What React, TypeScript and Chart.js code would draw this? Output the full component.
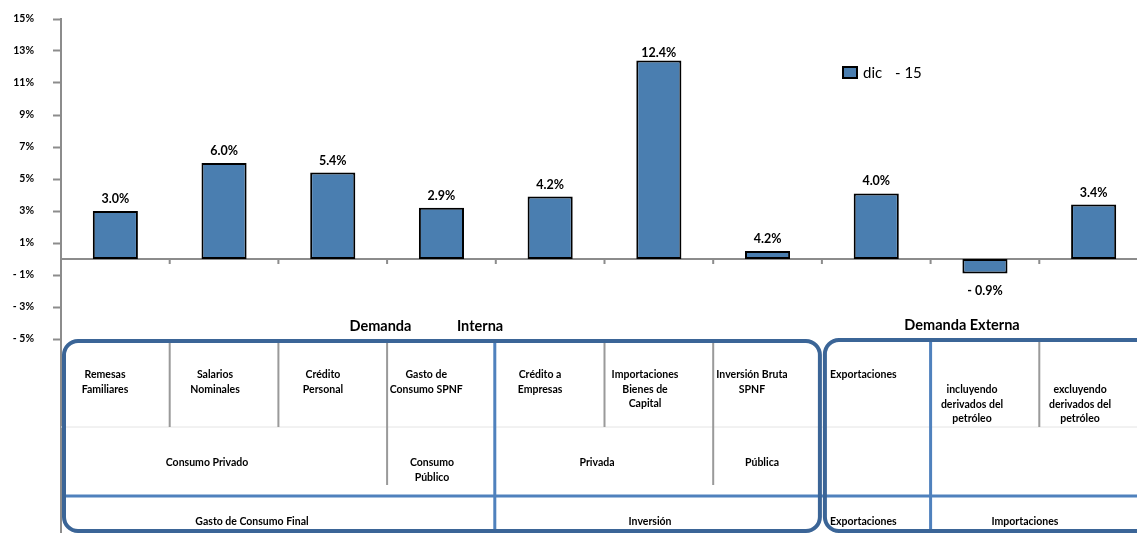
import React, { useEffect, useRef } from "react";
import { Chart, registerables } from "chart.js";

Chart.register(...registerables);

const categories = [
  "Remesas Familiares",
  "Salarios Nominales",
  "Crédito Personal",
  "Gasto de Consumo SPNF",
  "Crédito a Empresas",
  "Importaciones Bienes de Capital",
  "Inversión Bruta SPNF",
  "Exportaciones",
  "Importaciones incluyendo derivados del petróleo",
  "Importaciones excluyendo derivados del petróleo",
];
const seriesName = "dic   - 15";
const dic15 = [3.0, 6.0, 5.4, 3.2, 3.9, 12.4, 0.5, 4.1, -0.9, 3.4];
const dic15Labels = ["3.0%", "6.0%", "5.4%", "2.9%", "4.2%", "12.4%", "4.2%", "4.0%", "- 0.9%", "3.4%"];
const yTicks = [-5, -3, -1, 1, 3, 5, 7, 9, 11, 13, 15];

const row1 = [
  { lines: ["Remesas", "Familiares"], c: 0.405 },
  { lines: ["Salarios", "Nominales"], c: 1.417 },
  { lines: ["Crédito", "Personal"], c: 2.41 },
  { lines: ["Gasto de", "Consumo SPNF"], c: 3.36 },
  { lines: ["Crédito a", "Empresas"], c: 4.407 },
  { lines: ["Importaciones", "Bienes de", "Capital"], c: 5.373 },
  { lines: ["Inversión Bruta", "SPNF"], c: 6.357 },
];
const row1b = [
  { lines: ["incluyendo", "derivados del", "petróleo"], c: 8.381 },
  { lines: ["excluyendo", "derivados del", "petróleo"], c: 9.375 },
];
const row2 = [
  { lines: ["Consumo Privado"], c: 1.343 },
  { lines: ["Consumo", "Público"], c: 3.413 },
  { lines: ["Privada"], c: 4.931 },
  { lines: ["Pública"], c: 6.449 },
];
const row3 = [
  { lines: ["Gasto de Consumo Final"], c: 1.757 },
  { lines: ["Inversión"], c: 5.419 },
  { lines: ["Importaciones"], c: 8.868 },
];

const FONT = "Lato, 'Open Sans', sans-serif";

const customPlugin = {
  id: "custom",
  beforeDatasetsDraw(chart: any) {
    const { ctx, chartArea } = chart;
    const xs = chart.scales.x;
    const ys = chart.scales.y;
    const y0 = ys.getPixelForValue(0);
    const catW = (xs.right - xs.left) / categories.length;
    ctx.save();
    ctx.strokeStyle = "#8c8c8c";
    ctx.lineWidth = 2;
    ctx.beginPath();
    ctx.moveTo(chartArea.left, y0);
    ctx.lineTo(chartArea.right, y0);
    for (let i = 1; i < categories.length; i++) {
      const x = xs.left + i * catW;
      ctx.moveTo(x, y0);
      ctx.lineTo(x, y0 + 5);
    }
    ctx.stroke();
    ctx.restore();
  },
  afterDraw(chart: any) {
    const { ctx, chartArea } = chart;
    const xs = chart.scales.x;
    const catW = (xs.right - xs.left) / categories.length;
    const X = (c: number) => xs.left + c * catW;
    const meta = chart.getDatasetMeta(0);
    ctx.save();
    ctx.fillStyle = "#000";
    ctx.font = `bold 12.5px ${FONT}`;
    ctx.textAlign = "center";
    ctx.textBaseline = "middle";
    meta.data.forEach((bar: any, i: number) => {
      const v = dic15[i];
      let y = v >= 0 ? bar.y - 12 : bar.y + 18;
      if (v >= 0 && y < chartArea.top + 30) y = bar.y - 8;
      ctx.fillText(dic15Labels[i], bar.x, y);
    });

    ctx.fillStyle = "#4A7EB0";
    ctx.fillRect(843, 67, 14, 11);
    ctx.strokeStyle = "#000";
    ctx.lineWidth = 2;
    ctx.strokeRect(843, 67, 14, 11);
    ctx.fillStyle = "#000";
    ctx.font = `15px ${FONT}`;
    ctx.textAlign = "left";
    ctx.fillText("dic", 863, 73);
    ctx.fillText("- 15", 895, 73);

    const B = chartArea.bottom;
    const T = B + 2;
    const bottom = 531;
    const W = chart.width + 20;

    ctx.font = `bold 14.5px ${FONT}`;
    ctx.textAlign = "center";
    ctx.fillText("Demanda", X(2.939), B - 13);
    ctx.fillText("Interna", X(3.855), B - 13);
    ctx.fillText("Demanda Externa", X(8.289), B - 14);

    ctx.strokeStyle = "#8c8c8c";
    ctx.lineWidth = 2;
    ctx.beginPath();
    ctx.moveTo(chartArea.left, B);
    ctx.lineTo(chartArea.left, 533);
    ctx.stroke();

    ctx.strokeStyle = "#e4e4e4";
    ctx.lineWidth = 1;
    ctx.beginPath();
    ctx.moveTo(chartArea.left, B + 88);
    ctx.lineTo(W, B + 88);
    ctx.stroke();

    ctx.strokeStyle = "#9a9a9a";
    ctx.lineWidth = 2;
    ctx.beginPath();
    const shortDiv = [1, 2, 5, 9];
    const longDiv = [3, 6];
    shortDiv.forEach((i) => {
      ctx.moveTo(X(i), T);
      ctx.lineTo(X(i), B + 88);
    });
    longDiv.forEach((i) => {
      ctx.moveTo(X(i), T);
      ctx.lineTo(X(i), B + 146);
    });
    ctx.stroke();

    ctx.strokeStyle = "#4F81BD";
    ctx.lineWidth = 3;
    ctx.beginPath();
    ctx.moveTo(chartArea.left + 3, B + 157);
    ctx.lineTo(W, B + 157);
    ctx.moveTo(X(4) - 1, T);
    ctx.lineTo(X(4) - 1, 533);
    ctx.moveTo(X(8), T - 1);
    ctx.lineTo(X(8), 533);
    ctx.stroke();

    const rr = (x1: number, y1: number, x2: number, y2: number, r: number) => {
      ctx.beginPath();
      ctx.moveTo(x1 + r, y1);
      ctx.lineTo(x2 - r, y1);
      ctx.arcTo(x2, y1, x2, y1 + r, r);
      ctx.lineTo(x2, y2 - r);
      ctx.arcTo(x2, y2, x2 - r, y2, r);
      ctx.lineTo(x1 + r, y2);
      ctx.arcTo(x1, y2, x1, y2 - r, r);
      ctx.lineTo(x1, y1 + r);
      ctx.arcTo(x1, y1, x1 + r, y1, r);
      ctx.closePath();
      ctx.stroke();
    };
    ctx.strokeStyle = "#3B6597";
    ctx.lineWidth = 4;
    rr(chartArea.left + 3, T, X(7) - 2, bottom, 14);
    rr(X(7) + 3, T - 1, W + 40, bottom, 14);

    ctx.fillStyle = "#000";
    ctx.font = `bold 10.5px ${FONT}`;
    ctx.textAlign = "center";
    ctx.textBaseline = "middle";
    const drawLines = (lines: string[], x: number, y: number) => {
      lines.forEach((t, k) => ctx.fillText(t, x, y + k * 14.5));
    };
    row1.forEach((r) => drawLines(r.lines, X(r.c), B + 36));
    row1b.forEach((r) => drawLines(r.lines, X(r.c), B + 51));
    row2.forEach((r) => drawLines(r.lines, X(r.c), B + 124));
    row3.forEach((r) => drawLines(r.lines, X(r.c), B + 183));
    ctx.textAlign = "left";
    ctx.fillText("Exportaciones", X(7.075), B + 36);
    ctx.fillText("Exportaciones", X(7.075), B + 183);
    ctx.restore();
  },
};

export default function App() {
  const ref = useRef<HTMLCanvasElement | null>(null);
  useEffect(() => {
    if (!ref.current) return;
    const chart = new Chart(ref.current, {
      type: "bar",
      data: {
        labels: categories,
        datasets: [
          {
            label: seriesName,
            data: dic15,
            backgroundColor: "#4A7EB0",
            borderColor: "#000",
            borderWidth: 2,
            borderSkipped: false,
            barPercentage: 0.415,
            categoryPercentage: 1,
          },
        ],
      },
      options: {
        responsive: false,
        animation: false,
        layout: { padding: { top: 19, right: 12, bottom: 194, left: 0 } },
        plugins: { legend: { display: false }, tooltip: { enabled: false } },
        scales: {
          x: { display: false },
          y: {
            min: -5,
            max: 15,
            afterBuildTicks: (s: any) => {
              s.ticks = yTicks.map((v) => ({ value: v }));
            },
            afterFit: (s: any) => {
              s.width = 61;
              s.paddingTop = 0;
              s.paddingBottom = 0;
            },
            ticks: {
              callback: (v: any) => (Number(v) < 0 ? "- " + Math.abs(Number(v)) + "%" : v + "%"),
              font: { family: FONT, size: 10.5, weight: "bold" },
              color: "#000",
              padding: 19,
            },
            grid: { drawOnChartArea: false, tickLength: 8, color: "#8c8c8c", tickWidth: 2 },
            border: { color: "#8c8c8c", width: 2 },
          },
        },
      },
      plugins: [customPlugin],
    } as any);
    return () => chart.destroy();
  }, []);
  return (
    <div style={{ position: "absolute", left: 0, top: 0, width: 1137, height: 533, overflow: "hidden", background: "#fff" }}>
      <canvas ref={ref} width={1160} height={533} style={{ display: "block" }} />
    </div>
  );
}
